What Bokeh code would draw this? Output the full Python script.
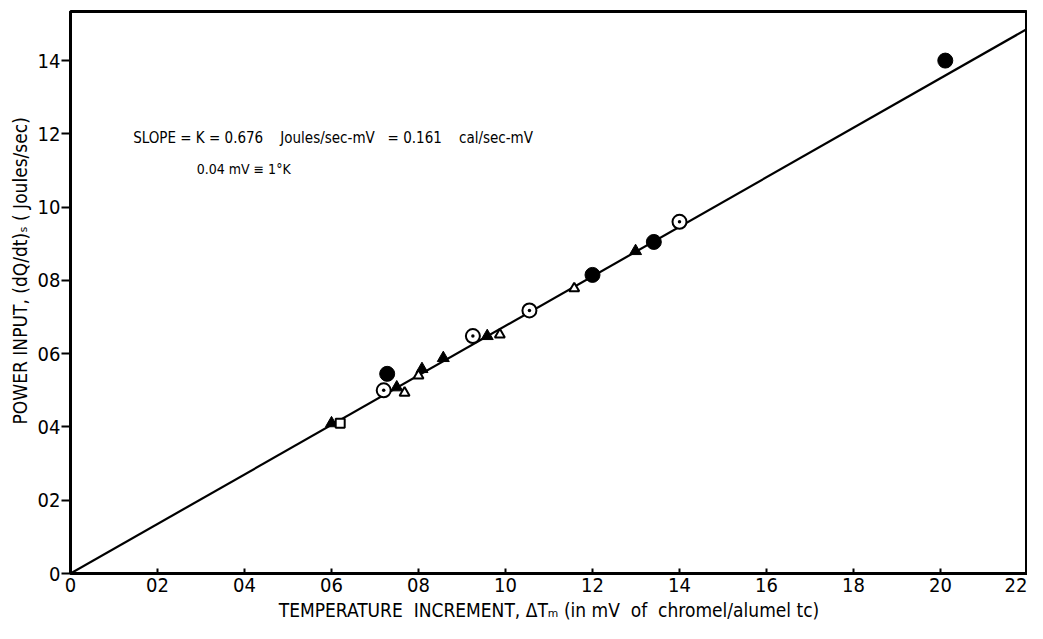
from bokeh.plotting import figure
from bokeh.models import FixedTicker, Range1d, Label
from bokeh.embed import file_html
from bokeh.resources import INLINE

# ---- data ----
x_ticks = [0.0, 0.2, 0.4, 0.6, 0.8, 1.0, 1.2, 1.4, 1.6, 1.8, 2.0, 2.2]
x_tick_labels = ["0", "02", "04", "06", "08", "10", "12", "14", "16", "18", "20", "22"]
y_ticks = [0.0, 0.2, 0.4, 0.6, 0.8, 1.0, 1.2, 1.4]
y_tick_labels = ["0", "02", "04", "06", "08", "10", "12", "14"]

filled_circle_x = [0.728, 1.200, 1.341, 2.011]
filled_circle_y = [0.545, 0.815, 0.905, 1.400]

open_circle_x = [0.720, 0.925, 1.055, 1.400]
open_circle_y = [0.500, 0.648, 0.718, 0.960]

filled_tri_x = [0.600, 0.750, 0.808, 0.857, 0.958, 1.299]
filled_tri_y = [0.410, 0.508, 0.558, 0.588, 0.648, 0.880]

open_tri_x = [0.768, 0.800, 0.987, 1.158]
open_tri_y = [0.493, 0.540, 0.652, 0.778]

open_square_x = [0.620]
open_square_y = [0.410]

fit_x = [0.0, 2.2]
fit_y = [0.0, 1.487]   # slope K = 0.676

FONT = "DejaVu Sans Condensed"
NB = "\u00a0"

p = figure(width=1027, height=623, output_backend="svg", toolbar_location=None,
           x_range=Range1d(0, 2.2), y_range=Range1d(0, 1.534),
           min_border_left=70, min_border_right=0, min_border_top=11, min_border_bottom=0)
p.background_fill_color = "white"
p.border_fill_color = "white"
p.grid.visible = False
p.outline_line_color = "black"
p.outline_line_width = 3

xax = p.below[0]
yax = p.left[0]
xax.ticker = FixedTicker(ticks=x_ticks)
xax.major_label_overrides = {t: l for t, l in zip(x_ticks, x_tick_labels)}
yax.ticker = FixedTicker(ticks=y_ticks)
yax.major_label_overrides = {t: l for t, l in zip(y_ticks, y_tick_labels)}
for ax in (xax, yax):
    ax.axis_line_width = 3
    ax.axis_line_color = "black"
    ax.major_tick_line_color = "black"
    ax.major_tick_line_width = 2
    ax.minor_tick_line_color = None
    ax.major_label_text_font = FONT
    ax.major_label_text_font_size = "20px"
    ax.major_label_text_color = "black"
    ax.axis_label_text_font = FONT
    ax.axis_label_text_font_style = "normal"
    ax.axis_label_text_color = "black"
    ax.axis_label_text_font_size = "19px"
xax.major_tick_in = 5
xax.major_tick_out = 0
xax.major_label_standoff = 4
xax.axis_label_standoff = 4
xax.axis_label = ("TEMPERATURE" + NB * 2 + "INCREMENT, \u0394T\u2098 (in mV" + NB * 2 + "of" + NB * 2
                  + "chromel/alumel tc)")
yax.major_tick_in = 0
yax.major_tick_out = 9
yax.major_label_standoff = 1
yax.axis_label_standoff = 4
yax.axis_label = NB * 9 + "POWER INPUT, (dQ/dt)\u209B  ( Joules/sec)"

# fit line
p.line(fit_x, fit_y, line_color="black", line_width=2.2)

# markers
p.scatter(filled_circle_x, filled_circle_y, marker="circle", size=15,
          fill_color="black", line_color="black")
p.scatter(open_circle_x, open_circle_y, marker="circle_dot", size=14,
          fill_color="white", line_color="black", line_width=2)
p.scatter(filled_tri_x, filled_tri_y, marker="triangle", size=12,
          fill_color="black", line_color="black")
p.scatter(open_tri_x, open_tri_y, marker="triangle", size=10,
          fill_color="white", line_color="black", line_width=2)
p.scatter(open_square_x, open_square_y, marker="square", size=9,
          fill_color="white", line_color="black", line_width=2)

# annotations
p.add_layout(Label(x=0.144, y=1.19,
                   text="SLOPE = K = 0.676" + NB * 4 + "Joules/sec-mV" + NB * 3 + "= 0.161" + NB * 4 + "cal/sec-mV",
                   text_font=FONT, text_font_size="15px", text_color="black",
                   text_baseline="middle"))
p.add_layout(Label(x=0.29, y=1.105, text="0.04 mV \u2261 1\u00b0K",
                   text_font=FONT, text_font_size="14px", text_color="black",
                   text_baseline="middle"))

open("out.html", "w").write(file_html(p, INLINE))
